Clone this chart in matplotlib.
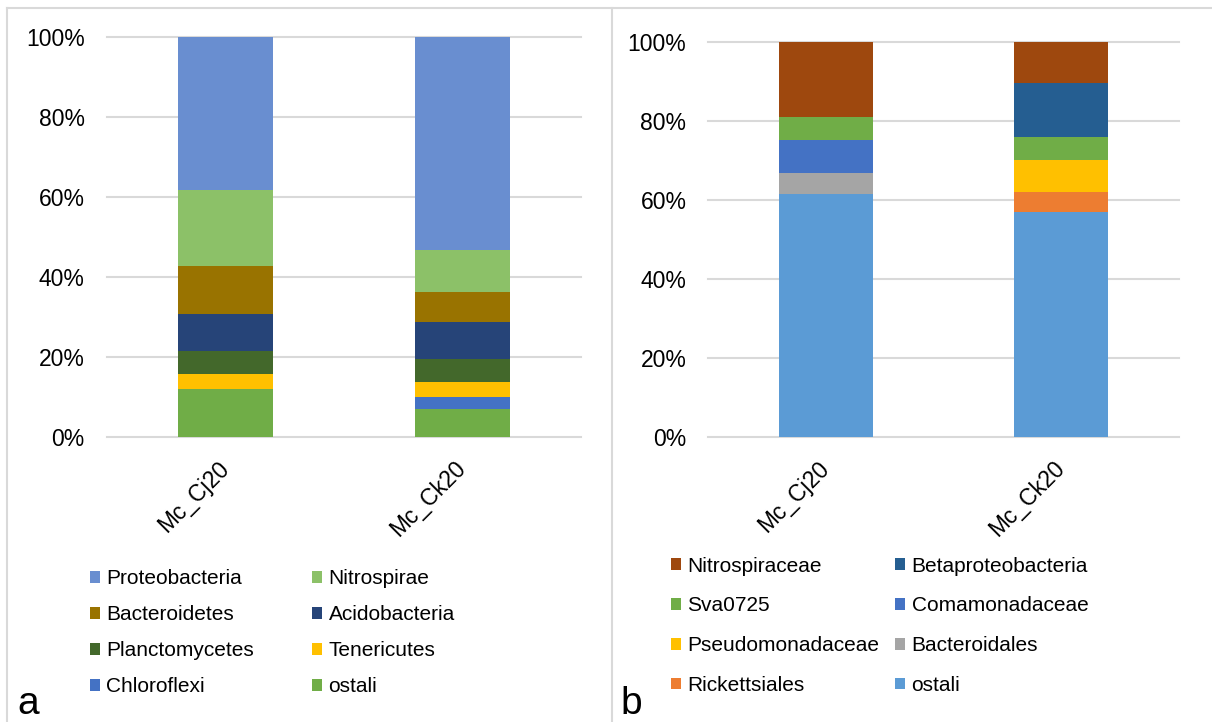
import matplotlib.pyplot as plt
import numpy as np
from matplotlib.lines import Line2D

plt.rcParams['font.family'] = ['Liberation Sans', 'DejaVu Sans']

muestras = ["Mc_Cj20", "Mc_Ck20"]

# Panel a: filos (de abajo hacia arriba)
filos = ["ostali", "Chloroflexi", "Tenericutes", "Planctomycetes",
         "Acidobacteria", "Bacteroidetes", "Nitrospirae", "Proteobacteria"]
filos_cj20 = [12.0, 0.0, 3.7, 5.7, 9.3, 12.0, 19.0, 38.3]
filos_ck20 = [6.9, 3.2, 3.7, 5.7, 9.3, 7.5, 10.4, 53.3]
colores_a = ["#70AD47", "#4472C4", "#FFC000", "#43682B",
             "#264478", "#997300", "#8CC168", "#698ED0"]
orden_a = ["Proteobacteria", "Bacteroidetes", "Planctomycetes", "Chloroflexi",
           "Nitrospirae", "Acidobacteria", "Tenericutes", "ostali"]

# Panel b: familias (de abajo hacia arriba)
familias = ["ostali", "Rickettsiales", "Bacteroidales", "Pseudomonadaceae",
            "Comamonadaceae", "Sva0725", "Betaproteobacteria", "Nitrospiraceae"]
fam_cj20 = [61.5, 0.0, 5.4, 0.0, 8.2, 5.9, 0.0, 19.0]
fam_ck20 = [57.0, 5.1, 0.0, 8.1, 0.0, 5.8, 13.6, 10.4]
colores_b = ["#5B9BD5", "#ED7D31", "#A5A5A5", "#FFC000",
             "#4472C4", "#70AD47", "#255E91", "#9E480E"]
orden_b = ["Nitrospiraceae", "Sva0725", "Pseudomonadaceae", "Rickettsiales",
           "Betaproteobacteria", "Comamonadaceae", "Bacteroidales", "ostali"]

W, H = 1212, 722
fig = plt.figure(figsize=(W / 100, H / 100), dpi=100)
gris = "#D9D9D9"


def panel(rect, nombres, v1, v2, colores, ypad):
    ax = fig.add_axes(rect)
    x = np.arange(len(muestras))
    base = np.zeros(2)
    handles = {}
    for n, a, b, c in zip(nombres, v1, v2, colores):
        vals = np.array([a, b]) / 100
        bars = ax.bar(x, vals, 0.4, bottom=base, color=c, label=n, zorder=3)
        handles[n] = bars
        base += vals
    ax.set_xlim(-0.5, 1.5)
    ax.set_ylim(0, 1)
    ax.set_yticks(np.arange(0, 1.01, 0.2))
    ax.set_yticklabels([f"{int(round(t * 100))}%" for t in np.arange(0, 1.01, 0.2)])
    ax.grid(axis='y', color=gris, linewidth=1.5, zorder=0)
    for gl in ax.get_ygridlines():
        gl.set_clip_on(False)
    for s in ax.spines.values():
        s.set_visible(False)
    ax.tick_params(length=0, labelsize=16.5, colors="#000000")
    ax.tick_params(axis='y', pad=ypad)
    ax.set_xticks(x)
    ax.set_xticklabels(muestras, rotation=45, ha='right', va='center',
                       rotation_mode='anchor')
    ax.tick_params(axis='x', pad=20)
    return ax, handles


ax1, h1 = panel([107 / W, (H - 437) / H, 474 / W, 400 / H],
                filos, filos_cj20, filos_ck20, colores_a, 16)
ax2, h2 = panel([708 / W, (H - 437.3) / H, 471 / W, 395.3 / H],
                familias, fam_cj20, fam_ck20, colores_b, 15.5)

fig.legend([h1[n] for n in orden_a], orden_a, ncol=2, loc='upper left',
           bbox_to_anchor=(90 / W, (H - 569.5) / H), frameon=False,
           fontsize=15, handlelength=0.48, handleheight=0.48,
           handletextpad=0.3, columnspacing=2.8, labelspacing=0.81,
           borderpad=0, borderaxespad=0)
fig.legend([h2[n] for n in orden_b], orden_b, ncol=2, loc='upper left',
           bbox_to_anchor=(671 / W, (H - 556.5) / H), frameon=False,
           fontsize=15, handlelength=0.48, handleheight=0.48,
           handletextpad=0.3, columnspacing=0.77, labelspacing=1.0,
           borderpad=0, borderaxespad=0)

fig.text(17 / W, (H - 714) / H, "a", fontsize=28, va='baseline')
fig.text(620 / W, (H - 714) / H, "b", fontsize=28, va='baseline')

# marco y separador
fig.add_artist(Line2D([7 / W, 1], [1 - 8 / H, 1 - 8 / H], color=gris, lw=1.5))
fig.add_artist(Line2D([7 / W, 7 / W], [0, 1 - 8 / H], color=gris, lw=1.5))
fig.add_artist(Line2D([612 / W, 612 / W], [0, 1 - 8 / H], color=gris, lw=1.5))

fig.savefig("out.png", dpi=100)
